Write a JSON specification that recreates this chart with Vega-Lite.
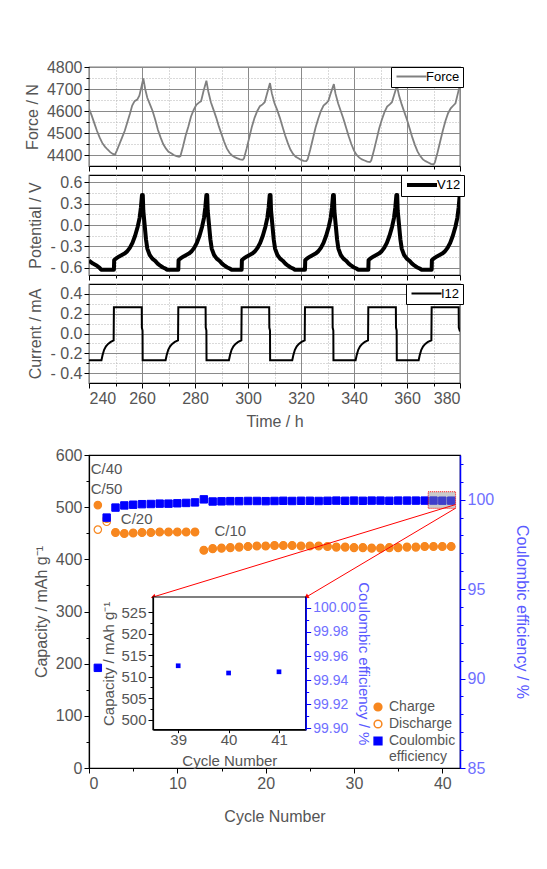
{
"$schema": "https://vega.github.io/schema/vega-lite/v6.json",
"padding": {"left": 23, "top": 58, "right": 5, "bottom": 5},
"config": {
 "font": "Liberation Sans",
 "view": {"stroke": "#000000", "strokeWidth": 1.2},
 "axis": {"labelFont": "Liberation Sans", "titleFont": "Liberation Sans", "labelFontSize": 16, "titleFontSize": 16, "titleFontWeight": "normal", "labelColor": "#555555", "titleColor": "#555555", "domainColor": "#000000", "tickColor": "#000000", "domainWidth": 1.2, "tickWidth": 1, "grid": false, "titlePadding": 6, "labelPadding": 2},
 "legend": {"labelFont": "Liberation Sans"}
},
"datasets": {
 "force": [
  {"t":240,"f":4610},{"t":241,"f":4580},{"t":242,"f":4545},{"t":243,"f":4510},{"t":244,"f":4480},{"t":245,"f":4455},{"t":246,"f":4438},{"t":247,"f":4425},{"t":248,"f":4413},{"t":249,"f":4405},{"t":249.8,"f":4402},{"t":250.5,"f":4420},{"t":251.5,"f":4450},{"t":252.5,"f":4480},{"t":253.5,"f":4510},{"t":254.5,"f":4550},{"t":255.5,"f":4590},{"t":256.3,"f":4625},{"t":257.2,"f":4645},{"t":258.2,"f":4652},{"t":259,"f":4670},{"t":259.8,"f":4710},{"t":260.5,"f":4748},{"t":261.2,"f":4700},{"t":262,"f":4660},{"t":263,"f":4630},{"t":264,"f":4600},{"t":265,"f":4560},{"t":266,"f":4515},{"t":267,"f":4480},{"t":268,"f":4450},{"t":269,"f":4430},{"t":270,"f":4415},{"t":271,"f":4408},{"t":272,"f":4400},{"t":273,"f":4395},{"t":274,"f":4392},
  {"t":274.5,"f":4395},{"t":275.5,"f":4440},{"t":276.5,"f":4490},{"t":277.5,"f":4530},{"t":278.5,"f":4575},{"t":279.5,"f":4605},{"t":280.5,"f":4628},{"t":281.5,"f":4638},{"t":282.3,"f":4645},{"t":283.2,"f":4690},{"t":284.3,"f":4738},{"t":285,"f":4690},{"t":286,"f":4640},{"t":287,"f":4605},{"t":288,"f":4570},{"t":289,"f":4530},{"t":290,"f":4495},{"t":291,"f":4460},{"t":292,"f":4430},{"t":293,"f":4410},{"t":294,"f":4398},{"t":295,"f":4390},{"t":296,"f":4385},{"t":297,"f":4380},{"t":298,"f":4378},
  {"t":298.5,"f":4385},{"t":299.5,"f":4430},{"t":300.5,"f":4480},{"t":301.5,"f":4530},{"t":302.5,"f":4570},{"t":303.5,"f":4600},{"t":304.5,"f":4622},{"t":305.5,"f":4630},{"t":306.3,"f":4640},{"t":307.2,"f":4680},{"t":308.3,"f":4727},{"t":309,"f":4680},{"t":310,"f":4635},{"t":311,"f":4605},{"t":312,"f":4570},{"t":313,"f":4530},{"t":314,"f":4490},{"t":315,"f":4455},{"t":316,"f":4425},{"t":317,"f":4405},{"t":318,"f":4392},{"t":319,"f":4385},{"t":320,"f":4378},{"t":321,"f":4373},{"t":322,"f":4372},
  {"t":322.5,"f":4380},{"t":323.5,"f":4425},{"t":324.5,"f":4475},{"t":325.5,"f":4525},{"t":326.5,"f":4565},{"t":327.5,"f":4600},{"t":328.5,"f":4625},{"t":329.5,"f":4635},{"t":330.3,"f":4645},{"t":331.2,"f":4680},{"t":332.4,"f":4722},{"t":333,"f":4680},{"t":334,"f":4635},{"t":335,"f":4600},{"t":336,"f":4565},{"t":337,"f":4525},{"t":338,"f":4485},{"t":339,"f":4450},{"t":340,"f":4420},{"t":341,"f":4400},{"t":342,"f":4388},{"t":343,"f":4380},{"t":344,"f":4375},{"t":345,"f":4370},{"t":346,"f":4368},
  {"t":346.5,"f":4375},{"t":347.5,"f":4420},{"t":348.5,"f":4470},{"t":349.5,"f":4520},{"t":350.5,"f":4560},{"t":351.5,"f":4595},{"t":352.5,"f":4620},{"t":353.5,"f":4630},{"t":354.3,"f":4640},{"t":355.2,"f":4675},{"t":356.2,"f":4715},{"t":357,"f":4670},{"t":358,"f":4630},{"t":359,"f":4595},{"t":360,"f":4560},{"t":361,"f":4520},{"t":362,"f":4480},{"t":363,"f":4445},{"t":364,"f":4415},{"t":365,"f":4395},{"t":366,"f":4380},{"t":367,"f":4372},{"t":368,"f":4366},{"t":369,"f":4360},{"t":370,"f":4357},
  {"t":370.5,"f":4365},{"t":371.5,"f":4410},{"t":372.5,"f":4460},{"t":373.5,"f":4510},{"t":374.5,"f":4555},{"t":375.5,"f":4590},{"t":376.5,"f":4612},{"t":377.5,"f":4625},{"t":378.3,"f":4635},{"t":379.2,"f":4680},{"t":380,"f":4720}
 ],
 "potential": [
  {"t":240,"v":-0.5},{"t":241.5,"v":-0.54},{"t":243,"v":-0.57},{"t":244,"v":-0.6},{"t":244.6,"v":-0.625},
  {"t":249.4,"v":-0.625},{"t":249.5,"v":-0.49},{"t":250.4,"v":-0.465},{"t":251.4,"v":-0.44},{"t":252.4,"v":-0.42},{"t":253.4,"v":-0.4},{"t":254.4,"v":-0.37},{"t":255.4,"v":-0.32},{"t":256.4,"v":-0.25},{"t":257.4,"v":-0.15},{"t":258.4,"v":-0.02},{"t":259.1,"v":0.1},{"t":259.6,"v":0.25},{"t":260.0,"v":0.42},{"t":260.3,"v":0.42},{"t":260.5,"v":0.2},{"t":261.0,"v":0.0},{"t":261.5,"v":-0.2},{"t":262.0,"v":-0.33},{"t":262.9,"v":-0.42},{"t":263.9,"v":-0.47},{"t":264.9,"v":-0.5},{"t":265.9,"v":-0.54},{"t":266.9,"v":-0.57},{"t":267.9,"v":-0.595},{"t":268.9,"v":-0.61},{"t":269.4,"v":-0.625},
  {"t":273.7,"v":-0.625},{"t":273.8,"v":-0.49},{"t":274.7,"v":-0.465},{"t":275.7,"v":-0.44},{"t":276.7,"v":-0.42},{"t":277.7,"v":-0.4},{"t":278.7,"v":-0.37},{"t":279.7,"v":-0.32},{"t":280.7,"v":-0.25},{"t":281.7,"v":-0.15},{"t":282.7,"v":-0.02},{"t":283.4,"v":0.1},{"t":283.9,"v":0.25},{"t":284.3,"v":0.42},{"t":284.6,"v":0.42},{"t":284.8,"v":0.2},{"t":285.3,"v":0.0},{"t":285.8,"v":-0.2},{"t":286.3,"v":-0.33},{"t":287.2,"v":-0.42},{"t":288.2,"v":-0.47},{"t":289.2,"v":-0.5},{"t":290.2,"v":-0.54},{"t":291.2,"v":-0.57},{"t":292.2,"v":-0.595},{"t":293.2,"v":-0.61},{"t":293.7,"v":-0.625},
  {"t":297.6,"v":-0.625},{"t":297.7,"v":-0.49},{"t":298.6,"v":-0.465},{"t":299.6,"v":-0.44},{"t":300.6,"v":-0.42},{"t":301.6,"v":-0.4},{"t":302.6,"v":-0.37},{"t":303.6,"v":-0.32},{"t":304.6,"v":-0.25},{"t":305.6,"v":-0.15},{"t":306.6,"v":-0.02},{"t":307.3,"v":0.1},{"t":307.8,"v":0.25},{"t":308.2,"v":0.42},{"t":308.5,"v":0.42},{"t":308.7,"v":0.2},{"t":309.2,"v":0.0},{"t":309.7,"v":-0.2},{"t":310.2,"v":-0.33},{"t":311.1,"v":-0.42},{"t":312.1,"v":-0.47},{"t":313.1,"v":-0.5},{"t":314.1,"v":-0.54},{"t":315.1,"v":-0.57},{"t":316.1,"v":-0.595},{"t":317.1,"v":-0.61},{"t":317.6,"v":-0.625},
  {"t":321.5,"v":-0.625},{"t":321.6,"v":-0.49},{"t":322.5,"v":-0.465},{"t":323.5,"v":-0.44},{"t":324.5,"v":-0.42},{"t":325.5,"v":-0.4},{"t":326.5,"v":-0.37},{"t":327.5,"v":-0.32},{"t":328.5,"v":-0.25},{"t":329.5,"v":-0.15},{"t":330.5,"v":-0.02},{"t":331.2,"v":0.1},{"t":331.7,"v":0.25},{"t":332.1,"v":0.42},{"t":332.4,"v":0.42},{"t":332.6,"v":0.2},{"t":333.1,"v":0.0},{"t":333.6,"v":-0.2},{"t":334.1,"v":-0.33},{"t":335.0,"v":-0.42},{"t":336.0,"v":-0.47},{"t":337.0,"v":-0.5},{"t":338.0,"v":-0.54},{"t":339.0,"v":-0.57},{"t":340.0,"v":-0.595},{"t":341.0,"v":-0.61},{"t":341.5,"v":-0.625},
  {"t":345.4,"v":-0.625},{"t":345.5,"v":-0.49},{"t":346.4,"v":-0.465},{"t":347.4,"v":-0.44},{"t":348.4,"v":-0.42},{"t":349.4,"v":-0.4},{"t":350.4,"v":-0.37},{"t":351.4,"v":-0.32},{"t":352.4,"v":-0.25},{"t":353.4,"v":-0.15},{"t":354.4,"v":-0.02},{"t":355.1,"v":0.1},{"t":355.6,"v":0.25},{"t":356.0,"v":0.42},{"t":356.3,"v":0.42},{"t":356.5,"v":0.2},{"t":357.0,"v":0.0},{"t":357.5,"v":-0.2},{"t":358.0,"v":-0.33},{"t":358.9,"v":-0.42},{"t":359.9,"v":-0.47},{"t":360.9,"v":-0.5},{"t":361.9,"v":-0.54},{"t":362.9,"v":-0.57},{"t":363.9,"v":-0.595},{"t":364.9,"v":-0.61},{"t":365.4,"v":-0.625},
  {"t":369.3,"v":-0.625},{"t":369.4,"v":-0.49},{"t":370.3,"v":-0.465},{"t":371.3,"v":-0.44},{"t":372.3,"v":-0.42},{"t":373.3,"v":-0.4},{"t":374.3,"v":-0.37},{"t":375.3,"v":-0.32},{"t":376.3,"v":-0.25},{"t":377.3,"v":-0.15},{"t":378.3,"v":-0.02},{"t":379.0,"v":0.1},{"t":379.5,"v":0.25},{"t":379.9,"v":0.42},{"t":380,"v":0.42}
 ],
 "current": [
  {"t":240,"i":-0.27},
  {"t":244.7,"i":-0.27},{"t":245.1,"i":-0.22},{"t":245.7,"i":-0.165},{"t":246.4,"i":-0.13},{"t":247.2,"i":-0.105},{"t":248.2,"i":-0.085},{"t":249.3,"i":-0.07},{"t":249.4,"i":0.265},{"t":259.9,"i":0.265},{"t":259.95,"i":0.06},{"t":260.2,"i":0.03},{"t":260.25,"i":-0.27},
  {"t":268.9,"i":-0.27},{"t":269.3,"i":-0.22},{"t":269.9,"i":-0.165},{"t":270.6,"i":-0.13},{"t":271.4,"i":-0.105},{"t":272.4,"i":-0.085},{"t":273.6,"i":-0.07},{"t":273.7,"i":0.265},{"t":284.0,"i":0.265},{"t":284.05,"i":0.06},{"t":284.3,"i":0.03},{"t":284.35,"i":-0.27},
  {"t":292.8,"i":-0.27},{"t":293.2,"i":-0.22},{"t":293.8,"i":-0.165},{"t":294.5,"i":-0.13},{"t":295.3,"i":-0.105},{"t":296.3,"i":-0.085},{"t":297.5,"i":-0.07},{"t":297.6,"i":0.265},{"t":308.0,"i":0.265},{"t":308.05,"i":0.06},{"t":308.3,"i":0.03},{"t":308.35,"i":-0.27},
  {"t":316.7,"i":-0.27},{"t":317.1,"i":-0.22},{"t":317.7,"i":-0.165},{"t":318.4,"i":-0.13},{"t":319.2,"i":-0.105},{"t":320.2,"i":-0.085},{"t":321.4,"i":-0.07},{"t":321.5,"i":0.265},{"t":331.9,"i":0.265},{"t":331.95,"i":0.06},{"t":332.2,"i":0.03},{"t":332.25,"i":-0.27},
  {"t":340.6,"i":-0.27},{"t":341.0,"i":-0.22},{"t":341.6,"i":-0.165},{"t":342.3,"i":-0.13},{"t":343.1,"i":-0.105},{"t":344.1,"i":-0.085},{"t":345.3,"i":-0.07},{"t":345.4,"i":0.265},{"t":355.8,"i":0.265},{"t":355.85,"i":0.06},{"t":356.1,"i":0.03},{"t":356.15,"i":-0.27},
  {"t":364.4,"i":-0.27},{"t":364.8,"i":-0.22},{"t":365.4,"i":-0.165},{"t":366.1,"i":-0.13},{"t":366.9,"i":-0.105},{"t":367.9,"i":-0.085},{"t":369.2,"i":-0.07},{"t":369.3,"i":0.265},{"t":379.5,"i":0.265},{"t":379.55,"i":0.06},{"t":380,"i":0.02}
 ],
 "cap": [
  {"series":"Discharge","cycle":1,"cap":457},{"series":"Discharge","cycle":2,"cap":472},{"series":"Discharge","cycle":3,"cap":451},{"series":"Discharge","cycle":4,"cap":449},{"series":"Discharge","cycle":5,"cap":450},{"series":"Discharge","cycle":6,"cap":451},{"series":"Discharge","cycle":7,"cap":451},{"series":"Discharge","cycle":8,"cap":452},{"series":"Discharge","cycle":9,"cap":452},{"series":"Discharge","cycle":10,"cap":452},{"series":"Discharge","cycle":11,"cap":452},{"series":"Discharge","cycle":12,"cap":452},{"series":"Discharge","cycle":13,"cap":417},{"series":"Discharge","cycle":14,"cap":420},{"series":"Discharge","cycle":15,"cap":421},{"series":"Discharge","cycle":16,"cap":422},{"series":"Discharge","cycle":17,"cap":423},{"series":"Discharge","cycle":18,"cap":424},{"series":"Discharge","cycle":19,"cap":425},{"series":"Discharge","cycle":20,"cap":425},{"series":"Discharge","cycle":21,"cap":426},{"series":"Discharge","cycle":22,"cap":426},{"series":"Discharge","cycle":23,"cap":426},{"series":"Discharge","cycle":24,"cap":425},{"series":"Discharge","cycle":25,"cap":425},{"series":"Discharge","cycle":26,"cap":425},{"series":"Discharge","cycle":27,"cap":424},{"series":"Discharge","cycle":28,"cap":423},{"series":"Discharge","cycle":29,"cap":423},{"series":"Discharge","cycle":30,"cap":422},{"series":"Discharge","cycle":31,"cap":422},{"series":"Discharge","cycle":32,"cap":421},{"series":"Discharge","cycle":33,"cap":421},{"series":"Discharge","cycle":34,"cap":422},{"series":"Discharge","cycle":35,"cap":422},{"series":"Discharge","cycle":36,"cap":423},{"series":"Discharge","cycle":37,"cap":423},{"series":"Discharge","cycle":38,"cap":424},{"series":"Discharge","cycle":39,"cap":424},{"series":"Discharge","cycle":40,"cap":424},{"series":"Discharge","cycle":41,"cap":424},
  {"series":"Charge","cycle":1,"cap":504},{"series":"Charge","cycle":2,"cap":478},{"series":"Charge","cycle":3,"cap":452},{"series":"Charge","cycle":4,"cap":450},{"series":"Charge","cycle":5,"cap":451},{"series":"Charge","cycle":6,"cap":452},{"series":"Charge","cycle":7,"cap":452},{"series":"Charge","cycle":8,"cap":453},{"series":"Charge","cycle":9,"cap":453},{"series":"Charge","cycle":10,"cap":453},{"series":"Charge","cycle":11,"cap":453},{"series":"Charge","cycle":12,"cap":453},{"series":"Charge","cycle":13,"cap":418},{"series":"Charge","cycle":14,"cap":421},{"series":"Charge","cycle":15,"cap":422},{"series":"Charge","cycle":16,"cap":423},{"series":"Charge","cycle":17,"cap":424},{"series":"Charge","cycle":18,"cap":425},{"series":"Charge","cycle":19,"cap":426},{"series":"Charge","cycle":20,"cap":426},{"series":"Charge","cycle":21,"cap":427},{"series":"Charge","cycle":22,"cap":427},{"series":"Charge","cycle":23,"cap":427},{"series":"Charge","cycle":24,"cap":426},{"series":"Charge","cycle":25,"cap":426},{"series":"Charge","cycle":26,"cap":426},{"series":"Charge","cycle":27,"cap":425},{"series":"Charge","cycle":28,"cap":424},{"series":"Charge","cycle":29,"cap":424},{"series":"Charge","cycle":30,"cap":423},{"series":"Charge","cycle":31,"cap":423},{"series":"Charge","cycle":32,"cap":422},{"series":"Charge","cycle":33,"cap":422},{"series":"Charge","cycle":34,"cap":423},{"series":"Charge","cycle":35,"cap":423},{"series":"Charge","cycle":36,"cap":424},{"series":"Charge","cycle":37,"cap":424},{"series":"Charge","cycle":38,"cap":425},{"series":"Charge","cycle":39,"cap":425},{"series":"Charge","cycle":40,"cap":425},{"series":"Charge","cycle":41,"cap":425}
 ],
 "ce": [
  {"series":"Coulombic efficiency","cycle":1,"ce":90.6},{"series":"Coulombic efficiency","cycle":2,"ce":99.0},{"series":"Coulombic efficiency","cycle":3,"ce":99.56},{"series":"Coulombic efficiency","cycle":4,"ce":99.68},{"series":"Coulombic efficiency","cycle":5,"ce":99.72},{"series":"Coulombic efficiency","cycle":6,"ce":99.75},{"series":"Coulombic efficiency","cycle":7,"ce":99.76},{"series":"Coulombic efficiency","cycle":8,"ce":99.78},{"series":"Coulombic efficiency","cycle":9,"ce":99.78},{"series":"Coulombic efficiency","cycle":10,"ce":99.8},{"series":"Coulombic efficiency","cycle":11,"ce":99.82},{"series":"Coulombic efficiency","cycle":12,"ce":99.85},{"series":"Coulombic efficiency","cycle":13,"ce":100.02},{"series":"Coulombic efficiency","cycle":14,"ce":99.9},{"series":"Coulombic efficiency","cycle":15,"ce":99.91},{"series":"Coulombic efficiency","cycle":16,"ce":99.92},{"series":"Coulombic efficiency","cycle":17,"ce":99.92},{"series":"Coulombic efficiency","cycle":18,"ce":99.93},{"series":"Coulombic efficiency","cycle":19,"ce":99.93},{"series":"Coulombic efficiency","cycle":20,"ce":99.92},{"series":"Coulombic efficiency","cycle":21,"ce":99.93},{"series":"Coulombic efficiency","cycle":22,"ce":99.94},{"series":"Coulombic efficiency","cycle":23,"ce":99.93},{"series":"Coulombic efficiency","cycle":24,"ce":99.94},{"series":"Coulombic efficiency","cycle":25,"ce":99.94},{"series":"Coulombic efficiency","cycle":26,"ce":99.93},{"series":"Coulombic efficiency","cycle":27,"ce":99.94},{"series":"Coulombic efficiency","cycle":28,"ce":99.95},{"series":"Coulombic efficiency","cycle":29,"ce":99.94},{"series":"Coulombic efficiency","cycle":30,"ce":99.95},{"series":"Coulombic efficiency","cycle":31,"ce":99.94},{"series":"Coulombic efficiency","cycle":32,"ce":99.95},{"series":"Coulombic efficiency","cycle":33,"ce":99.95},{"series":"Coulombic efficiency","cycle":34,"ce":99.94},{"series":"Coulombic efficiency","cycle":35,"ce":99.95},{"series":"Coulombic efficiency","cycle":36,"ce":99.95},{"series":"Coulombic efficiency","cycle":37,"ce":99.95},{"series":"Coulombic efficiency","cycle":38,"ce":99.95},{"series":"Coulombic efficiency","cycle":39,"ce":99.952},{"series":"Coulombic efficiency","cycle":40,"ce":99.946},{"series":"Coulombic efficiency","cycle":41,"ce":99.947}
 ],
 "labels": [
  {"cycle":0.2,"cap":573,"label":"C/40"},{"cycle":0.2,"cap":535,"label":"C/50"},{"cycle":3.6,"cap":477,"label":"C/20"},{"cycle":14.2,"cap":455,"label":"C/10"}
 ],
 "box": [{"x1":38.4,"x2":41.5,"y1":497.8,"y2":529.6}],
 "zoomlines": [{"x1":41.5,"y1":505,"x2":7.26,"y2":327.8,"dir":"left"},{"x1":41.5,"y1":498,"x2":24.6,"y2":327.8,"dir":"right"}],
 "insetframe": [{"c1":38.5,"c2":41.53,"v1":497.7,"v2":528.5}],
 "inset": [{"cycle":39,"ce":99.952},{"cycle":40,"ce":99.946},{"cycle":41,"ce":99.947}]
},
"spacing": 16,
"resolve": {"scale": {"shape": "independent", "fill": "independent", "stroke": "independent", "color": "independent"}, "legend": {"shape": "independent", "fill": "independent", "stroke": "independent", "color": "independent"}},
"vconcat": [
 {
  "spacing": 0,
  "resolve": {"scale": {"color": "independent"}, "legend": {"color": "independent"}},
  "vconcat": [
   {
    "width": 371, "height": 99,
    "data": {"name": "force"},
    "mark": {"type": "line", "strokeWidth": 1.8, "clip": true},
    "encoding": {
     "x": {"field": "t", "type": "quantitative", "scale": {"domain": [240, 380], "nice": false, "zero": false},
      "axis": {"values": [240,250,260,270,280,290,300,310,320,330,340,350,360,370,380], "grid": true, "gridColor": {"condition": {"test": "datum.value % 20 == 0", "value": "#8a8a8a"}, "value": "#b4b4b4"}, "gridDash": {"condition": {"test": "datum.value % 20 == 0", "value": []}, "value": [1, 2]}, "labels": false, "title": null, "domain": false, "tickSize": {"condition": {"test": "datum.value % 20 == 0", "value": 5}, "value": 3}}},
     "y": {"field": "f", "type": "quantitative", "scale": {"domain": [4350, 4800], "nice": false, "zero": false},
      "axis": {"values": [4400,4450,4500,4550,4600,4650,4700,4750,4800], "format": "d", "labelExpr": "datum.value % 100 == 0 ? datum.label : ''", "grid": true, "gridColor": {"condition": {"test": "datum.value % 100 == 0", "value": "#8a8a8a"}, "value": "#b4b4b4"}, "gridDash": {"condition": {"test": "datum.value % 100 == 0", "value": []}, "value": [1, 2]}, "tickSize": {"condition": {"test": "datum.value % 100 == 0", "value": 5}, "value": 3}, "title": "Force / N", "domain": false}},
     "color": {"datum": "Force", "type": "nominal", "scale": {"range": ["#808080"]},
      "legend": {"title": null, "orient": "none", "legendX": 302, "legendY": 0, "symbolType": "M-3,0H3", "symbolSize": 100, "symbolOffset": 11, "symbolStrokeWidth": 2, "strokeColor": "#000000", "fillColor": "#ffffff", "padding": 3, "labelFontSize": 13, "labelColor": "#000000", "labelOffset": 8}}
    }
   },
   {
    "width": 371, "height": 100,
    "data": {"name": "potential"},
    "mark": {"type": "line", "strokeWidth": 4, "clip": true, "strokeJoin": "round"},
    "encoding": {
     "x": {"field": "t", "type": "quantitative", "scale": {"domain": [240, 380], "nice": false, "zero": false},
      "axis": {"values": [240,250,260,270,280,290,300,310,320,330,340,350,360,370,380], "grid": true, "gridColor": {"condition": {"test": "datum.value % 20 == 0", "value": "#8a8a8a"}, "value": "#b4b4b4"}, "gridDash": {"condition": {"test": "datum.value % 20 == 0", "value": []}, "value": [1, 2]}, "labels": false, "title": null, "domain": false, "tickSize": {"condition": {"test": "datum.value % 20 == 0", "value": 5}, "value": 3}}},
     "y": {"field": "v", "type": "quantitative", "scale": {"domain": [-0.7, 0.7], "nice": false, "zero": false},
      "axis": {"values": [-0.6,-0.45,-0.3,-0.15,0,0.15,0.3,0.45,0.6], "labelExpr": "abs(round(datum.value*100) % 30) == 0 ? (datum.value < -0.01 ? '- ' + format(-datum.value, '.1f') : format(abs(datum.value), '.1f')) : ''", "grid": true, "gridColor": {"condition": {"test": "abs(round(datum.value*100) % 30) == 0", "value": "#8a8a8a"}, "value": "#b4b4b4"}, "gridDash": {"condition": {"test": "abs(round(datum.value*100) % 30) == 0", "value": []}, "value": [1, 2]}, "tickSize": {"condition": {"test": "abs(round(datum.value*100) % 30) == 0", "value": 5}, "value": 3}, "title": "Potential / V", "domain": false}},
     "color": {"datum": "V12", "type": "nominal", "scale": {"range": ["#000000"]},
      "legend": {"title": null, "orient": "none", "legendX": 312, "legendY": 0, "symbolType": "M-3,0H3", "symbolSize": 100, "symbolOffset": 11, "symbolStrokeWidth": 4, "strokeColor": "#000000", "fillColor": "#ffffff", "padding": 3, "labelFontSize": 13, "labelColor": "#000000", "labelOffset": 8}}
    }
   },
   {
    "width": 371, "height": 99,
    "data": {"name": "current"},
    "mark": {"type": "line", "strokeWidth": 2, "clip": true},
    "encoding": {
     "x": {"field": "t", "type": "quantitative", "scale": {"domain": [240, 380], "nice": false, "zero": false},
      "axis": {"values": [240,250,260,270,280,290,300,310,320,330,340,350,360,370,380], "labelExpr": "datum.value % 20 == 0 ? datum.label : ''", "grid": true, "gridColor": {"condition": {"test": "datum.value % 20 == 0", "value": "#8a8a8a"}, "value": "#b4b4b4"}, "gridDash": {"condition": {"test": "datum.value % 20 == 0", "value": []}, "value": [1, 2]}, "tickSize": {"condition": {"test": "datum.value % 20 == 0", "value": 5}, "value": 3}, "title": "Time / h", "titlePadding": 7, "domain": false}},
     "y": {"field": "i", "type": "quantitative", "scale": {"domain": [-0.5, 0.5], "nice": false, "zero": false},
      "axis": {"values": [-0.4,-0.3,-0.2,-0.1,0,0.1,0.2,0.3,0.4], "labelExpr": "abs(round(datum.value*100) % 20) == 0 ? (datum.value < -0.01 ? '- ' + format(-datum.value, '.1f') : format(abs(datum.value), '.1f')) : ''", "grid": true, "gridColor": {"condition": {"test": "abs(round(datum.value*100) % 20) == 0", "value": "#8a8a8a"}, "value": "#b4b4b4"}, "gridDash": {"condition": {"test": "abs(round(datum.value*100) % 20) == 0", "value": []}, "value": [1, 2]}, "tickSize": {"condition": {"test": "abs(round(datum.value*100) % 20) == 0", "value": 5}, "value": 3}, "title": "Current / mA", "domain": false}},
     "color": {"datum": "I12", "type": "nominal", "scale": {"range": ["#000000"]},
      "legend": {"title": null, "orient": "none", "legendX": 317, "legendY": 0, "symbolType": "M-3,0H3", "symbolSize": 100, "symbolOffset": 11, "symbolStrokeWidth": 2, "strokeColor": "#000000", "fillColor": "#ffffff", "padding": 3, "labelFontSize": 13, "labelColor": "#000000", "labelOffset": 8}}
    }
   }
  ]
 },
 {
  "width": 371, "height": 313,
  "resolve": {"scale": {"x": "independent", "y": "independent"}, "axis": {"x": "independent", "y": "independent"}},
  "layer": [
   {
    "data": {"name": "cap"},
    "mark": {"type": "point", "size": 55, "strokeWidth": 1.2, "opacity": 1},
    "encoding": {
     "x": {"field": "cycle", "type": "quantitative", "scale": {"domain": [0, 42], "nice": false}, "axis": {"values": [0,5,10,15,20,25,30,35,40], "labelExpr": "datum.value % 10 == 0 ? datum.label : ''", "tickSize": {"condition": {"test": "datum.value % 10 == 0", "value": 5}, "value": 3}, "title": "Cycle Number", "titlePadding": 17}},
     "y": {"field": "cap", "type": "quantitative", "scale": {"domain": [0, 600], "nice": false}, "axis": {"values": [0,50,100,150,200,250,300,350,400,450,500,550,600], "labelExpr": "datum.value % 100 == 0 ? datum.label : ''", "tickSize": {"condition": {"test": "datum.value % 100 == 0", "value": 5}, "value": 3}, "title": "Capacity / mAh g⁻¹"}},
     "shape": {"field": "series", "type": "nominal", "scale": {"domain": ["Charge", "Discharge", "Coulombic efficiency"], "range": ["circle", "circle", "square"]}, "legend": {"title": null, "orient": "bottom-right", "offset": 4, "labelFontSize": 14, "labelColor": "#555555", "symbolSize": 60, "rowPadding": 3, "labelExpr": "datum.label == 'Coulombic efficiency' ? ['Coulombic', 'efficiency'] : datum.label"}},
     "fill": {"field": "series", "type": "nominal", "scale": {"domain": ["Charge", "Discharge", "Coulombic efficiency"], "range": ["#f7871f", "transparent", "#0000ff"]}, "legend": {"title": null, "orient": "bottom-right", "offset": 4, "labelFontSize": 14, "labelColor": "#555555", "symbolSize": 60, "rowPadding": 3, "labelExpr": "datum.label == 'Coulombic efficiency' ? ['Coulombic', 'efficiency'] : datum.label"}},
     "stroke": {"field": "series", "type": "nominal", "scale": {"domain": ["Charge", "Discharge", "Coulombic efficiency"], "range": ["#f7871f", "#f7871f", "#0000ff"]}, "legend": {"title": null, "orient": "bottom-right", "offset": 4, "labelFontSize": 14, "labelColor": "#555555", "symbolSize": 60, "rowPadding": 3, "labelExpr": "datum.label == 'Coulombic efficiency' ? ['Coulombic', 'efficiency'] : datum.label"}}
    }
   },
   {
    "data": {"name": "ce"},
    "mark": {"type": "point", "size": 55, "strokeWidth": 1, "opacity": 1},
    "encoding": {
     "x": {"field": "cycle", "type": "quantitative", "scale": {"domain": [0, 42], "nice": false}, "axis": null},
     "y": {"field": "ce", "type": "quantitative", "scale": {"domain": [85, 102.5], "nice": false, "zero": false}, "axis": {"orient": "right", "values": [85,86,87,88,89,90,91,92,93,94,95,96,97,98,99,100,101,102], "labelExpr": "datum.value % 5 == 0 ? datum.label : ''", "tickSize": {"condition": {"test": "datum.value % 5 == 0", "value": 5}, "value": 3}, "title": "Coulombic efficiency / %", "titlePadding": 20, "titleColor": "#5a5aff", "labelColor": "#6f6fff", "domainColor": "#0000ff", "tickColor": "#0000ff", "domainWidth": 1.5, "zindex": 1}},
     "shape": {"field": "series", "type": "nominal", "scale": {"domain": ["Charge", "Discharge", "Coulombic efficiency"], "range": ["circle", "circle", "square"]}, "legend": {"title": null, "orient": "bottom-right", "offset": 4, "labelFontSize": 14, "labelColor": "#555555", "symbolSize": 60, "rowPadding": 3, "labelExpr": "datum.label == 'Coulombic efficiency' ? ['Coulombic', 'efficiency'] : datum.label"}},
     "fill": {"field": "series", "type": "nominal", "scale": {"domain": ["Charge", "Discharge", "Coulombic efficiency"], "range": ["#f7871f", "transparent", "#0000ff"]}, "legend": {"title": null, "orient": "bottom-right", "offset": 4, "labelFontSize": 14, "labelColor": "#555555", "symbolSize": 60, "rowPadding": 3, "labelExpr": "datum.label == 'Coulombic efficiency' ? ['Coulombic', 'efficiency'] : datum.label"}},
     "stroke": {"field": "series", "type": "nominal", "scale": {"domain": ["Charge", "Discharge", "Coulombic efficiency"], "range": ["#f7871f", "#f7871f", "#0000ff"]}, "legend": {"title": null, "orient": "bottom-right", "offset": 4, "labelFontSize": 14, "labelColor": "#555555", "symbolSize": 60, "rowPadding": 3, "labelExpr": "datum.label == 'Coulombic efficiency' ? ['Coulombic', 'efficiency'] : datum.label"}}
    }
   },
   {
    "data": {"name": "labels"},
    "mark": {"type": "text", "align": "left", "baseline": "middle", "fontSize": 15, "color": "#555555"},
    "encoding": {
     "x": {"field": "cycle", "type": "quantitative", "scale": {"domain": [0, 42], "nice": false}, "axis": null},
     "y": {"field": "cap", "type": "quantitative", "scale": {"domain": [0, 600], "nice": false}, "axis": null},
     "text": {"field": "label"}
    }
   },
   {
    "data": {"name": "box"},
    "mark": {"type": "rect", "fill": "#8c8c8c", "fillOpacity": 0.45, "stroke": "#ff0000", "strokeDash": [1, 1], "strokeWidth": 1},
    "encoding": {
     "x": {"field": "x1", "type": "quantitative", "scale": {"domain": [0, 42], "nice": false}, "axis": null},
     "x2": {"field": "x2"},
     "y": {"field": "y1", "type": "quantitative", "scale": {"domain": [0, 600], "nice": false}, "axis": null},
     "y2": {"field": "y2"}
    }
   },
   {
    "data": {"name": "zoomlines"},
    "mark": {"type": "rule", "color": "#ff0000", "strokeWidth": 1},
    "encoding": {
     "x": {"field": "x1", "type": "quantitative", "scale": {"domain": [0, 42], "nice": false}, "axis": null},
     "x2": {"field": "x2"},
     "y": {"field": "y1", "type": "quantitative", "scale": {"domain": [0, 600], "nice": false}, "axis": null},
     "y2": {"field": "y2"}
    }
   },
   {
    "data": {"name": "zoomlines"},
    "mark": {"type": "point", "shape": "triangle-up", "filled": true, "color": "#ff0000", "size": 28, "opacity": 1},
    "encoding": {
     "x": {"field": "x2", "type": "quantitative", "scale": {"domain": [0, 42], "nice": false}, "axis": null},
     "y": {"field": "y2", "type": "quantitative", "scale": {"domain": [0, 600], "nice": false}, "axis": null},
     "angle": {"condition": {"test": "datum.dir == 'left'", "value": 254}, "value": 239}
    }
   },
   {
    "data": {"name": "insetframe"},
    "mark": {"type": "rect", "fill": "#ffffff", "stroke": "#000000", "strokeWidth": 1.2},
    "encoding": {
     "x": {"field": "c1", "type": "quantitative", "scale": {"domain": [38.5, 41.53], "range": [64, 216.7], "nice": false, "zero": false}, "axis": {"orient": "bottom", "offset": -38.3, "values": [39, 40, 41], "tickSize": 3, "labelPadding": 0, "labelFontSize": 15, "titleFontSize": 15, "title": "Cycle Number", "titlePadding": 6, "zindex": 1}},
     "x2": {"field": "c2"},
     "y": {"field": "v1", "type": "quantitative", "scale": {"domain": [497.7, 528.5], "range": [274.7, 142], "nice": false, "zero": false}, "axis": {"orient": "left", "offset": -64, "values": [500,502.5,505,507.5,510,512.5,515,517.5,520,522.5,525], "labelExpr": "datum.value % 5 == 0 ? datum.label : ''", "tickSize": {"condition": {"test": "datum.value % 5 == 0", "value": 5}, "value": 3}, "labelFontSize": 15, "titleFontSize": 15, "title": "Capacity / mAh g⁻¹", "titlePadding": 4, "zindex": 1}},
     "y2": {"field": "v2"}
    }
   },
   {
    "data": {"name": "inset"},
    "mark": {"type": "square", "size": 22, "color": "#0000ff", "opacity": 1},
    "encoding": {
     "x": {"field": "cycle", "type": "quantitative", "scale": {"domain": [38.5, 41.53], "range": [64, 216.7], "nice": false, "zero": false}, "axis": null},
     "y": {"field": "ce", "type": "quantitative", "scale": {"domain": [99.899, 100.009], "range": [274.7, 142], "nice": false, "zero": false}, "axis": {"orient": "right", "offset": -154.3, "values": [99.9,99.91,99.92,99.93,99.94,99.95,99.96,99.97,99.98,99.99,100.0], "format": ".2f", "labelExpr": "round(datum.value*100) % 2 == 0 ? datum.label : ''", "tickSize": {"condition": {"test": "round(datum.value*100) % 2 == 0", "value": 5}, "value": 3}, "labelFontSize": 14, "titleFontSize": 15, "title": "Coulombic efficiency / %", "titleColor": "#5a5aff", "labelColor": "#6f6fff", "domainColor": "#0000ff", "tickColor": "#0000ff", "domainWidth": 1.5, "titlePadding": 0, "zindex": 1}}
    }
   }
  ]
 }
]
}
